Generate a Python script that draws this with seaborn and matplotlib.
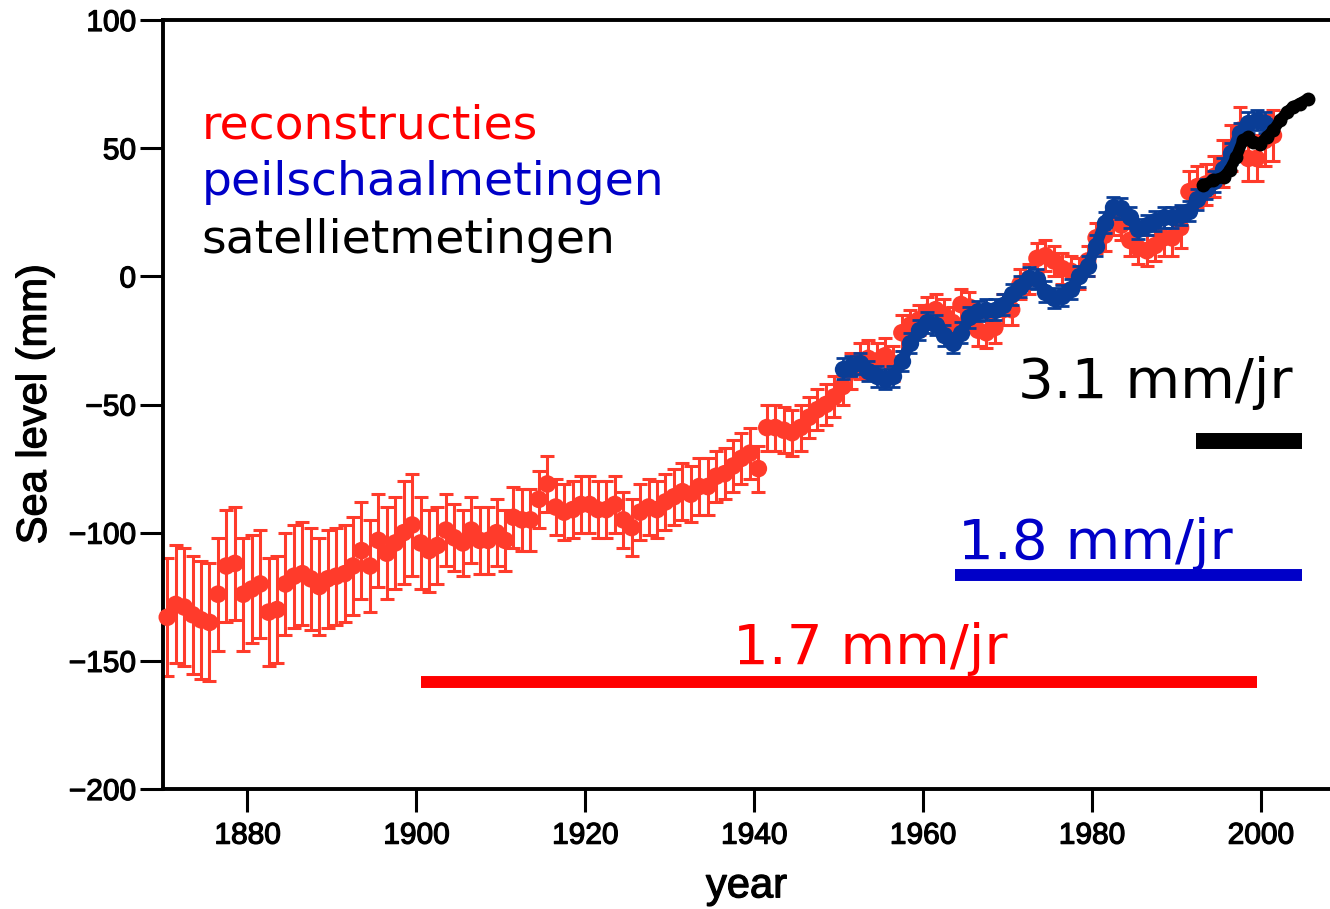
import numpy as np
import pandas as pd
import matplotlib
matplotlib.use("Agg")
import matplotlib.pyplot as plt
import matplotlib.patheffects as pe
import seaborn as sns

# --- reconstructed sea level (annual means, plotted mid-year) ---
recon_years = np.arange(1870, 2002) + 0.5
recon_mm = [
    -133, -128, -129, -132, -134, -135, -124, -113, -112, -124,   # 1870s
    -122, -120, -131, -130, -120, -117, -116, -118, -121, -118,   # 1880s
    -117, -116, -113, -107, -113, -103, -108, -104, -100, -97,    # 1890s
    -104, -107, -105, -99, -102, -104, -99, -103, -103, -100,     # 1900s
    -103, -94, -95, -95, -87, -81, -90, -92, -91, -89,            # 1910s
    -89, -91, -91, -89, -95, -98, -92, -90, -91, -88,             # 1920s
    -86, -84, -85, -82, -82, -78, -77, -74, -71, -69,             # 1930s
    -75, -59, -59, -60, -61, -59, -55, -52, -50, -47,             # 1940s
    -43, -37, -33, -32, -33, -31, -34, -22, -19, -17,             # 1950s
    -14, -13, -15, -18, -11, -12, -21, -22, -20, -13,             # 1960s
    -13, -3, -1, 7, 8, 6, 3, 2, 1, 6,                             # 1970s
    15, 16, 22, 20, 14, 11, 10, 12, 15, 15,                       # 1980s
    19, 33, 35, 36, 39, 44, 50, 57, 46, 46,                       # 1990s
    53, 55,                                                       # 2000s
]
recon_err = [
    23, 23, 23, 23, 23, 23, 22, 22, 22, 22,
    21, 21, 21, 21, 20, 20, 20, 20, 19, 19,
    19, 19, 19, 19, 18, 18, 18, 18, 20, 20,
    18, 16, 15, 14, 13, 13, 13, 13, 13, 13,
    12, 12, 12, 12, 11, 11, 11, 11, 11, 11,
    11, 11, 11, 11, 11, 11, 11, 11, 11, 11,
    11, 11, 11, 11, 11, 10, 10, 10, 10, 10,
    9, 9, 9, 9, 9, 9, 8, 8, 8, 8,
    7, 7, 7, 7, 7, 7, 7, 7, 6, 6,
    6, 6, 6, 6, 6, 6, 6, 6, 6, 6,
    6, 6, 6, 6, 6, 6, 6, 6, 6, 6,
    6, 6, 6, 6, 6, 6, 6, 6, 7, 7,
    8, 8, 8, 8, 8, 9, 9, 9, 9, 9,
    10, 10,
]

# --- tide gauge record ---
gauge_years = np.arange(1950, 2001) + 0.5
gauge_mm = [
    -36, -35, -34, -37, -39, -40, -39, -33, -26, -21,
    -18, -19, -23, -26, -22, -16, -13.5, -13, -13, -11,
    -7, -4, -0.5, -1, -6, -8.5, -7.5, -5, 0, 4,
    12, 21, 27, 26.5, 23, 18.5, 20, 21.5, 23, 23,
    24, 25.5, 30, 34, 37, 42, 48, 56, 60, 61,
    60,
]
gauge_err = [4] * len(gauge_mm)

# --- satellite altimetry ---
sat_years = [1993.2, 1994.4, 1995.6, 1996.3, 1997.1, 1997.9, 1998.5, 1999.1,
             1999.9, 2000.7, 2001.5, 2002.3, 2003.1, 2003.8, 2004.6, 2005.6]
sat_mm = [35.5, 37.5, 38.7, 41.4, 46.5, 53.1, 54.4, 52.4,
          51.8, 54.4, 57.0, 60.9, 64.1, 66.1, 67.4, 69.3]

# --- trend bars and their labels ---
rate_labels = ["1.7 mm/jr", "1.8 mm/jr", "3.1 mm/jr"]
rate_colors = ["#ff0000", "#0000c8", "#000000"]
rate_x0 = [1900.55, 1963.8, 1992.3]
rate_x1 = [1999.55, 2004.9, 2004.9]
rate_y = [-158.4, -116.7, -64.4]
rate_width = [8.6, 8.6, 11.5]
label_x = [1937.5, 1964.2, 2003.8]
label_y = [-151.4, -110.4, -47.6]
label_ha = ["left", "left", "right"]

legend_names = ["reconstructies", "peilschaalmetingen", "satellietmetingen"]
legend_colors = ["#ff0000", "#0000c8", "#000000"]
legend_y = [53.8, 31.6, 9.0]

RED = "#ff3b2b"
BLUE = "#0a3d96"

sns.set_theme(style="ticks")
plt.rcParams["font.family"] = ["Liberation Sans", "DejaVu Sans"]
plt.rcParams["axes.linewidth"] = 2.8
plt.rcParams["text.color"] = "black"
plt.rcParams["axes.labelcolor"] = "black"

fig = plt.figure(figsize=(13.3, 9.09), dpi=100)
ax = fig.add_axes([0.1226, 0.1320, 0.8774, 0.8460])

recon = pd.DataFrame({"year": recon_years, "mm": recon_mm, "err": recon_err})
gauge = pd.DataFrame({"year": gauge_years, "mm": gauge_mm, "err": gauge_err})
sat = pd.DataFrame({"year": sat_years, "mm": sat_mm})

# reconstruction: error bars with caps plus filled dots
ax.errorbar(recon["year"], recon["mm"], yerr=recon["err"], fmt="none",
            ecolor=RED, elinewidth=2.2, capsize=5, capthick=2.2, zorder=2)
sns.scatterplot(data=recon, x="year", y="mm", ax=ax, color=RED, s=160,
                edgecolor="none", linewidth=0, zorder=3, clip_on=False)

# tide gauges: thick beaded line
ax.errorbar(gauge["year"], gauge["mm"], yerr=gauge["err"], fmt="none",
            ecolor=BLUE, elinewidth=2.0, capsize=5, capthick=2.0, zorder=4)
sns.lineplot(data=gauge, x="year", y="mm", ax=ax, color=BLUE, linewidth=8,
             marker="o", markersize=12.5, markeredgewidth=0, zorder=5)

# satellites: thick black line
sns.lineplot(data=sat, x="year", y="mm", ax=ax, color="black", linewidth=8,
             marker="o", markersize=10, markeredgewidth=0,
             solid_capstyle="round", zorder=6)

# trend bars
for x0, x1, y, c, w in zip(rate_x0, rate_x1, rate_y, rate_colors, rate_width):
    ax.plot([x0, x1], [y, y], color=c, linewidth=w, solid_capstyle="butt", zorder=7)
for t, x, y, c, ha in zip(rate_labels, label_x, label_y, rate_colors, label_ha):
    ax.text(x, y, t, color=c, fontsize=40.5, family=["DejaVu Sans"],
            ha=ha, va="baseline", zorder=8)

# colour key
for t, c, y in zip(legend_names, legend_colors, legend_y):
    ax.text(1874.6, y, t, color=c, fontsize=34, family=["DejaVu Sans"],
            ha="left", va="baseline", zorder=8)

ax.set_xlim(1870, 2008.2)
ax.set_ylim(-200, 100)
ax.set_xticks([1880, 1900, 1920, 1940, 1960, 1980, 2000])
ax.set_yticks([-200, -150, -100, -50, 0, 50, 100])
ax.tick_params(direction="out", length=16.5, width=2.2, labelsize=21.5,
               colors="black")
ax.tick_params(axis="x", pad=7)
ax.tick_params(axis="y", pad=3)
ax.spines["right"].set_visible(False)
for s in ("left", "bottom", "top"):
    ax.spines[s].set_color("black")
ax.set_xlabel("year", fontsize=30, labelpad=12, color="black")
ax.set_ylabel("Sea level (mm)", fontsize=30, labelpad=10, color="black")
ax.grid(False)

# slightly heavier axis typography
heavy = [pe.withStroke(linewidth=0.9, foreground="black")]
for lab in ax.get_xticklabels() + ax.get_yticklabels():
    lab.set_path_effects(heavy)
ax.xaxis.label.set_path_effects(heavy)
ax.yaxis.label.set_path_effects(heavy)

fig.savefig("out.png", dpi=100, facecolor="white")
